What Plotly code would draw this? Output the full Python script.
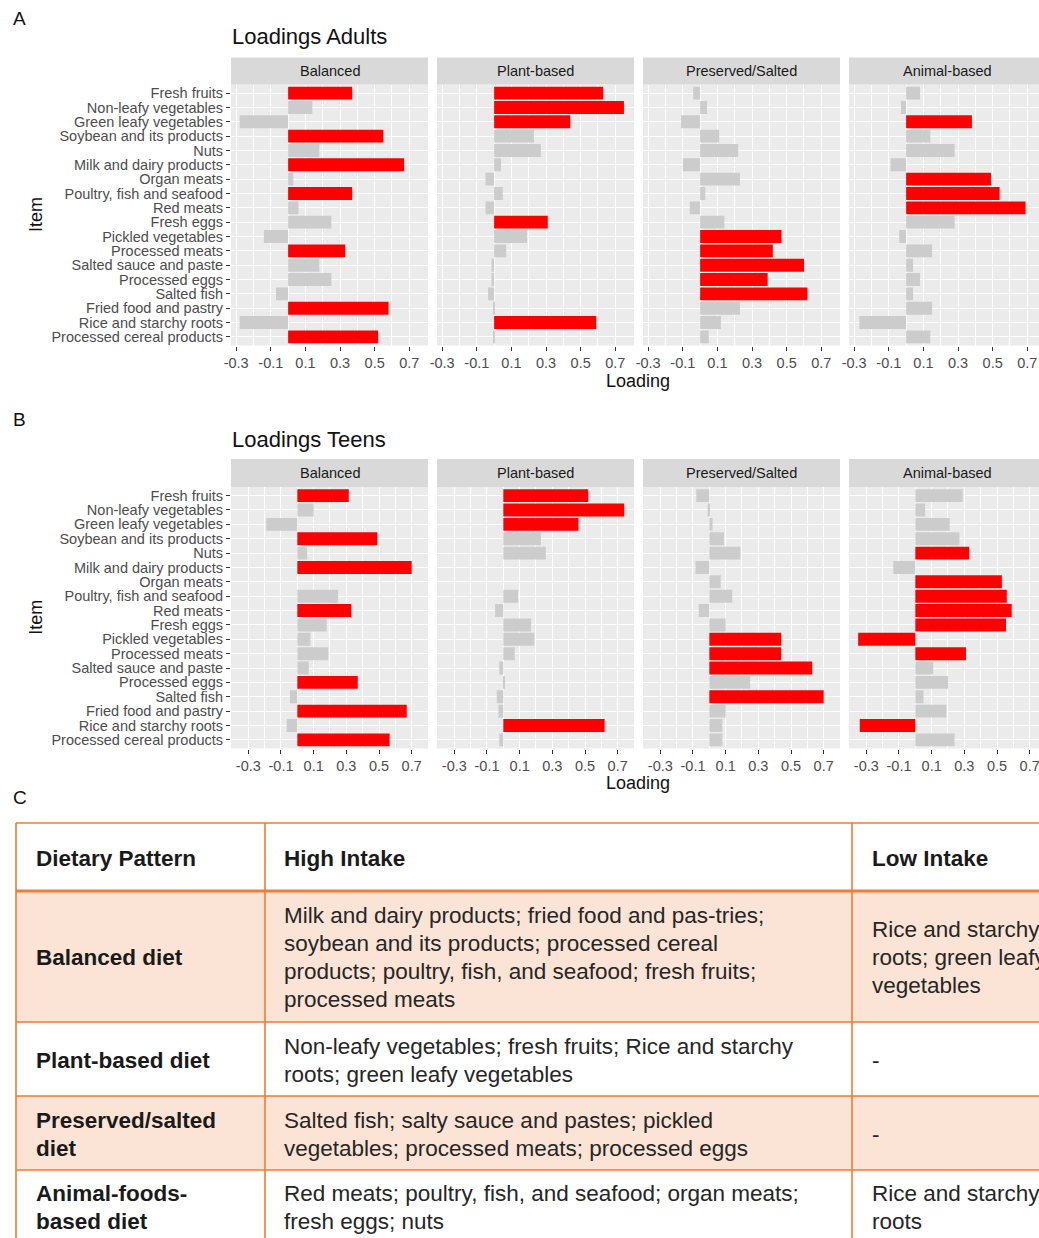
import plotly.graph_objects as go

# ---------------------------------------------------------------- data
items = [
    "Fresh fruits", "Non-leafy vegetables", "Green leafy vegetables",
    "Soybean and its products", "Nuts", "Milk and dairy products",
    "Organ meats", "Poultry, fish and seafood", "Red meats", "Fresh eggs",
    "Pickled vegetables", "Processed meats", "Salted sauce and paste",
    "Processed eggs", "Salted fish", "Fried food and pastry",
    "Rice and starchy roots", "Processed cereal products",
]
patterns = ["Balanced", "Plant-based", "Preserved/Salted", "Animal-based"]

adults_balanced = [0.37, 0.14, -0.28, 0.55, 0.18, 0.67, 0.03, 0.37, 0.06, 0.25,
                   -0.14, 0.33, 0.18, 0.25, -0.07, 0.58, -0.28, 0.52]
adults_plant = [0.63, 0.75, 0.44, 0.23, 0.27, 0.04, -0.05, 0.05, -0.05, 0.31,
                0.19, 0.07, -0.015, -0.015, -0.035, -0.005, 0.59, -0.005]
adults_preserved = [-0.04, 0.04, -0.11, 0.11, 0.22, -0.10, 0.23, 0.03, -0.06, 0.14,
                    0.47, 0.42, 0.60, 0.39, 0.62, 0.23, 0.12, 0.05]
adults_animal = [0.08, -0.03, 0.38, 0.14, 0.28, -0.09, 0.49, 0.54, 0.69, 0.28,
                 -0.04, 0.15, 0.04, 0.08, 0.04, 0.15, -0.27, 0.14]

teens_balanced = [0.315, 0.10, -0.19, 0.49, 0.06, 0.70, 0.0, 0.25, 0.33, 0.18,
                  0.08, 0.19, 0.07, 0.37, -0.045, 0.67, -0.065, 0.565]
teens_plant = [0.52, 0.74, 0.46, 0.23, 0.26, 0.0, 0.0, 0.09, -0.05, 0.17,
               0.19, 0.07, -0.025, 0.01, -0.04, -0.03, 0.62, -0.025]
teens_preserved = [-0.08, -0.01, 0.02, 0.09, 0.19, -0.085, 0.07, 0.14, -0.065, 0.10,
                   0.44, 0.44, 0.63, 0.25, 0.70, 0.10, 0.08, 0.08]
teens_animal = [0.29, 0.06, 0.21, 0.27, 0.33, -0.135, 0.53, 0.56, 0.59, 0.555,
                -0.35, 0.31, 0.11, 0.20, 0.05, 0.19, -0.34, 0.24]

x_tick_values = [-0.3, -0.1, 0.1, 0.3, 0.5, 0.7]
x_tick_labels = ["-0.3", "-0.1", "0.1", "0.3", "0.5", "0.7"]
x_minor_values = [-0.2, 0.0, 0.2, 0.4, 0.6]

table_header = ["Dietary Pattern", "High Intake", "Low Intake"]
# each cell is a list of its printed lines
table_patterns = [["Balanced diet"], ["Plant-based diet"], ["Preserved/salted", "diet"],
                  ["Animal-foods-", "based diet"]]
table_high = [
    ["Milk and dairy products; fried food and pas-tries;",
     "soybean and its products; processed cereal",
     "products; poultry, fish, and seafood; fresh fruits;",
     "processed meats"],
    ["Non-leafy vegetables; fresh fruits; Rice and starchy",
     "roots; green leafy vegetables"],
    ["Salted fish; salty sauce and pastes; pickled",
     "vegetables; processed meats; processed eggs"],
    ["Red meats; poultry, fish, and seafood; organ meats;",
     "fresh eggs; nuts"],
]
table_low = [["Rice and starchy", "roots; green leafy", "vegetables"], ["-"], ["-"],
             ["Rice and starchy", "roots"]]

HIGHLIGHT = 0.3  # |loading| at or above this is drawn in red

# ---------------------------------------------------------------- layout helpers
W, H = 1039, 1238
FONT = "Liberation Sans, Arial, sans-serif"


def px_x(p):
    return p / W


def px_y(p):
    return 1 - p / H


panel_left = [231, 437, 643, 849]
panel_w = 197
blocks = [
    dict(title="Loadings Adults", letter="A", letter_y=18, title_y=36,
         strip=(57.5, 84.5), panel=(84.5, 345.5), xrange=(-0.33, 0.808),
         xtitle_y=381, series=[adults_balanced, adults_plant, adults_preserved, adults_animal]),
    dict(title="Loadings Teens", letter="B", letter_y=420, title_y=439,
         strip=(459, 487), panel=(487, 748.5), xrange=(-0.406, 0.80),
         xtitle_y=783, series=[teens_balanced, teens_plant, teens_preserved, teens_animal]),
]

fig = go.Figure()
layout = dict(
    width=W, height=H, margin=dict(l=0, r=0, t=0, b=0, autoexpand=False),
    paper_bgcolor="white", plot_bgcolor="#EBEBEB",
    showlegend=False, font=dict(family=FONT, color="#4D4D4D"),
    bargap=0.1,
)
shapes, annotations = [], []

k = 0
for b in blocks:
    for j, vals in enumerate(b["series"]):
        k += 1
        xa = "x" if k == 1 else f"x{k}"
        ya = "y" if k == 1 else f"y{k}"
        left = panel_left[j]
        right = min(left + panel_w, W)
        r0, r1 = b["xrange"]
        # the last facet runs past the page edge; show only the visible part
        r_end = r0 + (r1 - r0) * (right - left) / panel_w
        colors = ["#FF0000" if abs(v) >= HIGHLIGHT else "#CCCCCC" for v in vals]
        fig.add_trace(go.Bar(
            x=vals, y=items, orientation="h", width=0.9,
            marker=dict(color=colors, line=dict(width=0)),
            xaxis=xa, yaxis=ya, hoverinfo="x+y",
        ))
        layout["xaxis" if k == 1 else f"xaxis{k}"] = dict(
            domain=[px_x(left), px_x(right)], anchor=ya, range=[r0, r_end],
            tickmode="array", tickvals=x_tick_values, ticktext=x_tick_labels,
            showgrid=True, gridcolor="white", gridwidth=1.3,
            minor=dict(tickvals=x_minor_values, showgrid=True, gridcolor="white",
                       gridwidth=0.6, ticks=""),
            ticks="outside", ticklen=4, tickwidth=1, tickcolor="#333333",
            tickfont=dict(size=14.5, color="#4D4D4D", family=FONT),
            ticklabeloverflow="allow", automargin=False,
            zeroline=False, showline=False, fixedrange=True,
        )
        layout["yaxis" if k == 1 else f"yaxis{k}"] = dict(
            domain=[px_y(b["panel"][1]), px_y(b["panel"][0])], anchor=xa,
            type="category", categoryorder="array", categoryarray=items,
            tickmode="array", tickvals=items, ticktext=items,
            range=[len(items) - 0.4, -0.6],
            showgrid=True, gridcolor="white", gridwidth=1.3,
            ticks="outside" if j == 0 else "", ticklen=4, tickwidth=1,
            tickcolor="#333333", showticklabels=(j == 0),
            tickfont=dict(size=14.5, color="#4D4D4D", family=FONT),
            automargin=False, zeroline=False, showline=False, fixedrange=True,
        )
        # facet strip
        s0, s1 = b["strip"]
        shapes.append(dict(type="rect", xref="paper", yref="paper",
                           x0=px_x(left), x1=px_x(left + panel_w),
                           y0=px_y(s1), y1=px_y(s0),
                           fillcolor="#D9D9D9", line=dict(width=0), layer="below"))
        annotations.append(dict(text=patterns[j], xref="paper", yref="paper",
                                x=px_x(left + panel_w / 2), y=px_y((s0 + s1) / 2),
                                showarrow=False, xanchor="center", yanchor="middle",
                                font=dict(size=14.5, color="#1A1A1A", family=FONT)))
    # block titles and axis titles
    annotations.append(dict(text=b["letter"], xref="paper", yref="paper",
                            x=px_x(11), y=px_y(b["letter_y"]), showarrow=False,
                            xanchor="left", yanchor="middle",
                            font=dict(size=19, color="#111111", family=FONT)))
    annotations.append(dict(text=b["title"], xref="paper", yref="paper",
                            x=px_x(230), y=px_y(b["title_y"]), showarrow=False,
                            xanchor="left", yanchor="middle",
                            font=dict(size=22, color="#111111", family=FONT)))
    annotations.append(dict(text="Loading", xref="paper", yref="paper",
                            x=px_x(638), y=px_y(b["xtitle_y"]), showarrow=False,
                            xanchor="center", yanchor="middle",
                            font=dict(size=18, color="#111111", family=FONT)))
    annotations.append(dict(text="Item", xref="paper", yref="paper",
                            x=px_x(36), y=px_y(sum(b["panel"]) / 2), showarrow=False,
                            textangle=-90, xanchor="center", yanchor="middle",
                            font=dict(size=18, color="#111111", family=FONT)))

# ---------------------------------------------------------------- table C
annotations.append(dict(text="C", xref="paper", yref="paper", x=px_x(11), y=px_y(797),
                        showarrow=False, xanchor="left", yanchor="middle",
                        font=dict(size=19, color="#111111", family=FONT)))

BORDER = "#ED7D31"
PEACH = "#FBE4D5"
col_x = [16, 265, 852, 1120]
row_y = [823, 891, 1022, 1096, 1170, 1250]
row_fill = ["white", PEACH, "white", PEACH, "white"]
LINE_STEP = 28
TABLE_FONT = 22.5

for r in range(5):
    shapes.append(dict(type="rect", xref="paper", yref="paper",
                       x0=px_x(col_x[0]), x1=px_x(col_x[-1]),
                       y0=px_y(row_y[r + 1]), y1=px_y(row_y[r]),
                       fillcolor=row_fill[r], line=dict(width=0), layer="below"))
for i, y in enumerate(row_y[:-1]):
    shapes.append(dict(type="line", xref="paper", yref="paper",
                       x0=px_x(col_x[0]), x1=px_x(col_x[-1]), y0=px_y(y), y1=px_y(y),
                       line=dict(color=BORDER, width=3 if i == 1 else 1.6)))
for x in col_x[:-1]:
    shapes.append(dict(type="line", xref="paper", yref="paper",
                       x0=px_x(x), x1=px_x(x), y0=px_y(row_y[0]), y1=px_y(row_y[-1]),
                       line=dict(color=BORDER, width=1.6)))

text_x = [34, 282, 870]


def cell_text(lines, x, yc, bold=False):
    top = yc - LINE_STEP * (len(lines) - 1) / 2
    for n, line in enumerate(lines):
        annotations.append(dict(text=f"<b>{line}</b>" if bold else line,
                                xref="paper", yref="paper",
                                x=px_x(x), y=px_y(top + n * LINE_STEP), showarrow=False,
                                xanchor="left", yanchor="middle", align="left",
                                font=dict(size=TABLE_FONT,
                                          color="#1A1A1A" if bold else "#262626",
                                          family=FONT)))


header_center = (row_y[0] + row_y[1]) / 2 + 1
for c, t in enumerate(table_header):
    cell_text([t], text_x[c], header_center, bold=True)
row_centers = [957, 1060, 1134, 1207]
for r in range(4):
    cell_text(table_patterns[r], text_x[0], row_centers[r], bold=True)
    cell_text(table_high[r], text_x[1], row_centers[r])
    cell_text(table_low[r], text_x[2], row_centers[r])

layout["shapes"] = shapes
layout["annotations"] = annotations
fig.update_layout(**layout)
fig.write_html("out.html")
